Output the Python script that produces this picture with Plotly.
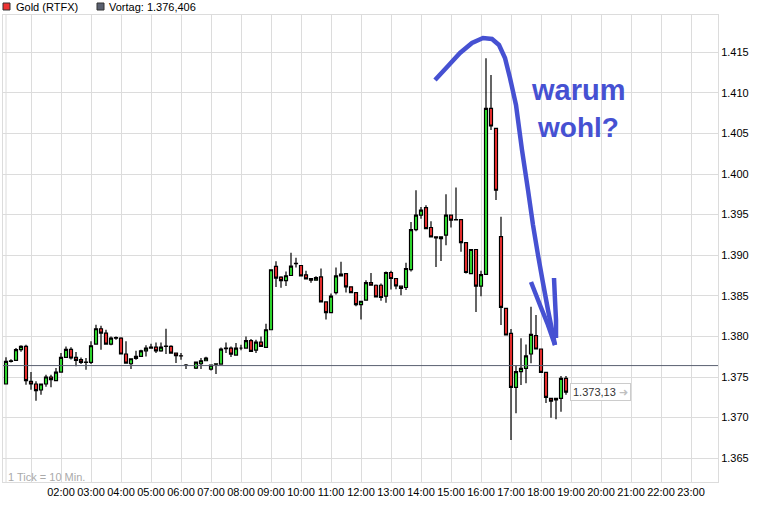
import plotly.graph_objects as go
import pandas as pd

# ---------------- data (10-minute candles, Gold RTFX) ----------------
opens = [1.37414, 1.37693, 1.37705, 1.37836, 1.37877, 1.37447, 1.37414, 1.37340, 1.37414, 1.37500,
         1.37455, 1.37561, 1.37742, 1.37840, 1.37742, 1.37713, 1.37684, 1.37680, 1.37906, 1.38094,
         1.38041, 1.37906, 1.37980, 1.37980, 1.37783, 1.37663, 1.37729, 1.37754, 1.37823, 1.37856,
         1.37869, 1.37823, 1.37877, 1.37877, 1.37795, 1.37762, 1.37647,
         1.37610, 1.37663, 1.37700, 1.37598, 1.37659, 1.37659, 1.37848, 1.37856, 1.37770, 1.37856,
         1.37856, 1.37947, 1.37832, 1.37930, 1.37865, 1.38082, 1.38862, 1.38731, 1.38686, 1.38750,
         1.38897, 1.38873, 1.38758, 1.38713, 1.38692, 1.38733, 1.38425, 1.38294, 1.38540, 1.38745,
         1.38774, 1.38610, 1.38540, 1.38392, 1.38446, 1.38663, 1.38630, 1.38630, 1.38495, 1.38787,
         1.38713, 1.38618, 1.38602, 1.38823, 1.39316, 1.39493, 1.39587, 1.39341, 1.39226, 1.39205,
         1.39246, 1.39493, 1.39439, 1.39439, 1.39156, 1.38774, 1.39070, 1.38618, 1.38764, 1.40809,
         1.40562, 1.39228, 1.38346, 1.38038, 1.37373, 1.37566, 1.37607, 1.37783, 1.38009, 1.37845,
         1.37557, 1.37237, 1.37217, 1.37237, 1.37484]
highs = [1.37742, 1.37720, 1.37857, 1.37890, 1.37898, 1.37561, 1.37447, 1.37414, 1.37529, 1.37529,
         1.37610, 1.37795, 1.37877, 1.37865, 1.37807, 1.37740, 1.37734, 1.37939, 1.38143, 1.38130,
         1.38082, 1.38000, 1.38000, 1.37990, 1.37939, 1.37730, 1.37823, 1.37836, 1.37890, 1.37910,
         1.37926, 1.37926, 1.38094, 1.37890, 1.37800, 1.37795, 1.37660,
         1.37684, 1.37733, 1.37750, 1.37647, 1.37670, 1.37864, 1.37926, 1.37877, 1.37918, 1.37897,
         1.38000, 1.37967, 1.37959, 1.38000, 1.38156, 1.38821, 1.38924, 1.38740, 1.38800, 1.39029,
         1.38970, 1.38880, 1.38807, 1.38713, 1.38740, 1.38836, 1.38425, 1.38528, 1.38850, 1.38918,
         1.38774, 1.38610, 1.38540, 1.38433, 1.38690, 1.38780, 1.38640, 1.38650, 1.38800, 1.38810,
         1.38713, 1.38618, 1.38906, 1.39410, 1.39800, 1.39595, 1.39616, 1.39419, 1.39226, 1.39226,
         1.39751, 1.39493, 1.39833, 1.39439, 1.39156, 1.39070, 1.39070, 1.38810, 1.41424, 1.41219,
         1.40562, 1.39475, 1.38346, 1.38090, 1.37640, 1.37976, 1.37900, 1.38366, 1.38264, 1.37845,
         1.37557, 1.37237, 1.37237, 1.37512, 1.37512]
lows = [1.37414, 1.37680, 1.37705, 1.37810, 1.37406, 1.37344, 1.37209, 1.37283, 1.37380, 1.37373,
        1.37455, 1.37561, 1.37742, 1.37715, 1.37631, 1.37660, 1.37590, 1.37660, 1.37906, 1.37836,
        1.37906, 1.37890, 1.37960, 1.37783, 1.37672, 1.37598, 1.37713, 1.37754, 1.37754, 1.37850,
        1.37795, 1.37810, 1.37782, 1.37795, 1.37672, 1.37713, 1.37598,
        1.37600, 1.37598, 1.37700, 1.37581, 1.37536, 1.37659, 1.37795, 1.37745, 1.37770, 1.37828,
        1.37856, 1.37815, 1.37795, 1.37877, 1.37865, 1.38082, 1.38608, 1.38600, 1.38620, 1.38750,
        1.38850, 1.38745, 1.38700, 1.38660, 1.38692, 1.38425, 1.38208, 1.38294, 1.38515, 1.38745,
        1.38540, 1.38540, 1.38370, 1.38208, 1.38446, 1.38630, 1.38487, 1.38438, 1.38413, 1.38577,
        1.38580, 1.38507, 1.38570, 1.38800, 1.39296, 1.39450, 1.39328, 1.39226, 1.38856, 1.38930,
        1.39123, 1.39341, 1.39430, 1.39041, 1.38775, 1.38774, 1.38302, 1.38495, 1.38764, 1.40542,
        1.39680, 1.38140, 1.38017, 1.36724, 1.37053, 1.37400, 1.37422, 1.37669, 1.37845, 1.37557,
        1.37180, 1.36999, 1.36980, 1.37073, 1.37280]
closes = [1.37693, 1.37700, 1.37836, 1.37877, 1.37455, 1.37414, 1.37332, 1.37414, 1.37500, 1.37467,
          1.37561, 1.37742, 1.37840, 1.37734, 1.37705, 1.37680, 1.37680, 1.37885, 1.38094, 1.38041,
          1.37906, 1.37980, 1.37985, 1.37783, 1.37672, 1.37725, 1.37754, 1.37823, 1.37856, 1.37869,
          1.37823, 1.37869, 1.37881, 1.37795, 1.37762, 1.37760, 1.37643,
          1.37684, 1.37700, 1.37733, 1.37647, 1.37663, 1.37844, 1.37856, 1.37782, 1.37856, 1.37856,
          1.37947, 1.37815, 1.37930, 1.37877, 1.38082, 1.38821, 1.38718, 1.38686, 1.38747, 1.38865,
          1.38900, 1.38745, 1.38709, 1.38692, 1.38725, 1.38425, 1.38294, 1.38495, 1.38745, 1.38766,
          1.38610, 1.38540, 1.38392, 1.38433, 1.38663, 1.38630, 1.38487, 1.38479, 1.38787, 1.38713,
          1.38622, 1.38590, 1.38836, 1.39316, 1.39493, 1.39554, 1.39328, 1.39226, 1.39213, 1.39226,
          1.39493, 1.39431, 1.39435, 1.39156, 1.38787, 1.39070, 1.38618, 1.38762, 1.40809, 1.40591,
          1.39800, 1.38358, 1.38017, 1.37373, 1.37566, 1.37607, 1.37759, 1.38025, 1.37845, 1.37557,
          1.37250, 1.37204, 1.37237, 1.37484, 1.37313]

day = "2011-08-22"
first_tick = "00:10"
last_tick = "18:50"
missing_ticks = ["06:20"]
vortag = 1.376406
last_label = "1.373,13"
hour_ticks = ["%02d:00" % h for h in range(1, 24)]
hour_text = [""] + ["%02d:00" % h for h in range(2, 24)]
y_ticks = [1.365, 1.370, 1.375, 1.380, 1.385, 1.390, 1.395, 1.400, 1.405, 1.410, 1.415]

all_times = pd.date_range(f"{day} {first_tick}", f"{day} {last_tick}", freq="10min")
skip = pd.to_datetime([f"{day} {t}" for t in missing_ticks])
times = [t for t in all_times if t not in skip]

# ---------------- figure ----------------
W, H = 777, 505
L, R, T, B = 3, 718, 15, 482  # plot area in pixels


def px(x):
    return (x - L) / (R - L)


def py(y):
    return (B - y) / (B - T)


BLUE = "#4651d2"
GRID = "#dcdcdc"
FONT = "Liberation Sans, Arial, sans-serif"

fig = go.Figure()
fig.add_trace(go.Candlestick(
    x=times, open=opens, high=highs, low=lows, close=closes,
    increasing=dict(fillcolor="#33ee33", line=dict(color="black", width=1.2)),
    decreasing=dict(fillcolor="#ff3333", line=dict(color="black", width=1.2)),
    whiskerwidth=0, showlegend=False, hoverinfo="skip",
))

shapes = []
# day start line
shapes.append(dict(type="line", xref="x", yref="paper", x0=f"{day} 00:10", x1=f"{day} 00:10",
                   y0=0, y1=1, line=dict(color=GRID, width=1), layer="below"))
# Vortag line
shapes.append(dict(type="line", xref="paper", yref="y", x0=0, x1=1, y0=vortag, y1=vortag,
                   line=dict(color="#5a6070", width=1)))


def path(points):
    d = "M " + " L ".join(f"{px(a):.5f},{py(b):.5f}" for a, b in points)
    return d


curve = [(435, 80), (448, 66), (460, 53), (472, 43), (483, 38), (492, 39), (499, 45),
         (505, 58), (510, 78), (516, 105), (522, 150), (528, 190), (533, 225),
         (538, 255), (543, 283), (548, 310), (552, 330), (555, 345)]
head_l = [(531, 282), (540, 305), (548, 325), (555, 345)]
head_r = [(554, 278), (555, 300), (556, 320), (556, 338)]
for pts, w in ((curve, 4.5), (head_l, 4.5), (head_r, 4.5)):
    shapes.append(dict(type="path", xref="paper", yref="paper", path=path(pts),
                       line=dict(color=BLUE, width=w)))

# legend squares
shapes.append(dict(type="rect", xref="paper", yref="paper", x0=px(3), x1=px(10), y0=py(10), y1=py(3),
                   fillcolor="#ee3333", line=dict(color="#333333", width=1)))
shapes.append(dict(type="rect", xref="paper", yref="paper", x0=px(97), x1=px(104), y0=py(10), y1=py(3),
                   fillcolor="#5a6070", line=dict(color="#333333", width=1)))

annotations = [
    dict(xref="paper", yref="paper", x=px(14), y=py(7), xanchor="left", yanchor="middle",
         text="Gold (RTFX)", showarrow=False, font=dict(size=11, color="black", family=FONT)),
    dict(xref="paper", yref="paper", x=px(107), y=py(7), xanchor="left", yanchor="middle",
         text="Vortag: 1.376,406", showarrow=False, font=dict(size=11, color="black", family=FONT)),
    dict(xref="paper", yref="paper", x=px(6), y=py(477), xanchor="left", yanchor="middle",
         text="1 Tick = 10 Min.", showarrow=False, font=dict(size=11, color="#aaaaaa", family=FONT)),
    dict(xref="x", yref="y", x=times[-1], y=closes[-1], xanchor="left", yanchor="middle", xshift=4,
         text=last_label + " <span style='color:#c0c0c0'>➜</span>", showarrow=False,
         bgcolor="white", bordercolor="#cccccc", borderwidth=1, borderpad=2,
         font=dict(size=11, color="#333333", family=FONT)),
    dict(xref="paper", yref="paper", x=px(578), y=py(90), xanchor="center", yanchor="middle",
         text="<b>warum</b>", showarrow=False, font=dict(size=29, color=BLUE, family=FONT)),
    dict(xref="paper", yref="paper", x=px(578), y=py(127), xanchor="center", yanchor="middle",
         text="<b>wohl?</b>", showarrow=False, font=dict(size=28, color=BLUE, family=FONT)),
]

fig.update_layout(
    width=W, height=H,
    margin=dict(l=L, r=W - R, t=T, b=H - B, pad=0),
    paper_bgcolor="white", plot_bgcolor="white",
    boxgap=0.15,
    font=dict(family=FONT, size=11, color="black"),
    shapes=shapes, annotations=annotations,
    xaxis=dict(
        type="date",
        range=[f"{day} 00:04", f"{day} 23:54"],
        rangeslider=dict(visible=False),
        tickvals=[f"{day} {t}" for t in hour_ticks], ticktext=hour_text,
        showgrid=True, gridcolor=GRID, gridwidth=1,
        showline=True, linecolor=GRID, mirror=True,
        ticks="", tickfont=dict(size=11, color="black", family=FONT),
        zeroline=False, fixedrange=True,
    ),
    yaxis=dict(
        side="right",
        range=[1.36207, 1.41958],
        tickvals=y_ticks, tickformat=".3f",
        showgrid=True, gridcolor=GRID, gridwidth=1,
        showline=True, linecolor=GRID, mirror=True,
        ticks="", ticklen=0,
        tickfont=dict(size=11, color="black", family=FONT),
        zeroline=False,
    ),
)

fig.write_html("out.html", config={"displayModeBar": False},
               post_script="document.body.style.margin='0px';")
